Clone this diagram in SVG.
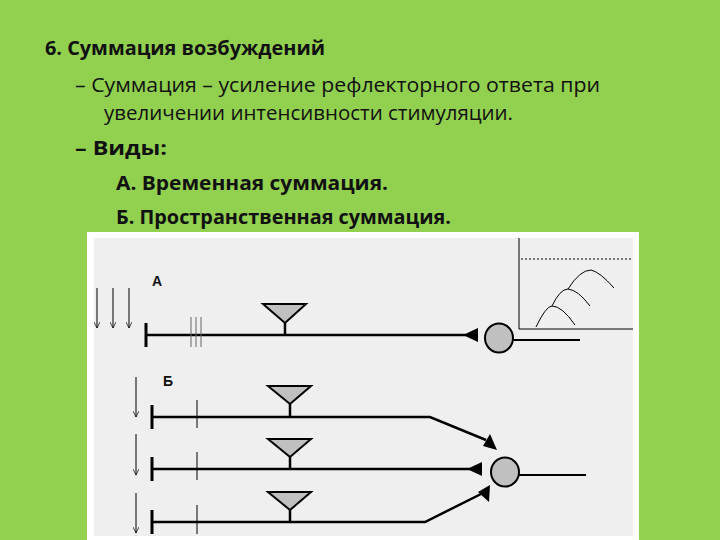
<svg xmlns="http://www.w3.org/2000/svg" width="720" height="540" viewBox="0 0 720 540">
<defs>
<style>
.t{font-family:"Open Sans","Liberation Sans",sans-serif;font-size:20px;fill:#111}
.b{font-weight:bold}
.ax{stroke:#000;stroke-width:2.5;fill:none}
.th{stroke:#000;stroke-width:1;fill:none}
.tri{fill:#c0c0c0;stroke:#000;stroke-width:2}
.cell{fill:#c0c0c0;stroke:#000;stroke-width:2}
.ah{fill:#000}
</style>
<marker id="sa" viewBox="0 0 10 10" refX="10" refY="5" markerWidth="6" markerHeight="6" orient="auto"><path d="M0,0 L10,5 L0,10" fill="none" stroke="#000" stroke-width="1.2"/></marker>
</defs>
<rect width="720" height="540" fill="#92d050"/>
<text class="t b" x="45" y="55" textLength="280" lengthAdjust="spacingAndGlyphs">6. Суммация возбуждений</text>
<text class="t" x="75" y="92" textLength="525" lengthAdjust="spacingAndGlyphs">– Суммация – усиление рефлекторного ответа при</text>
<text class="t" x="104" y="120" textLength="409" lengthAdjust="spacingAndGlyphs">увеличении интенсивности стимуляции.</text>
<text class="t b" x="75" y="155" textLength="92" lengthAdjust="spacingAndGlyphs">– Виды:</text>
<text class="t b" x="116" y="190" textLength="272" lengthAdjust="spacingAndGlyphs">А. Временная суммация.</text>
<text class="t b" x="116" y="224" textLength="335" lengthAdjust="spacingAndGlyphs">Б. Пространственная суммация.</text>
<rect x="87" y="232" width="552" height="310" fill="#fff"/>
<rect x="94" y="238" width="539" height="298" fill="#efefef"/>
<g id="graph">
<path d="M519,238 V329 H633" class="th"/>
<line x1="521" y1="259" x2="632" y2="259" stroke="#000" stroke-width="1" stroke-dasharray="2,2"/>
<path d="M536,327 Q546,306 552,306 Q562,306 575,325" class="th" stroke="#333"/>
<path d="M552,306 Q560,289 568,289 Q578,290 590,306" class="th" stroke="#333"/>
<path d="M568,289 Q580,270 591,270 Q600,272 614,288" class="th" stroke="#333"/>
</g>
<g id="labels" font-family="Liberation Sans,sans-serif" font-weight="bold" font-size="14" fill="#111">
<text x="152" y="286">А</text><text x="163" y="386">Б</text>
</g>
<g id="stimuli">
<line x1="97" y1="288" x2="97" y2="328" class="th" marker-end="url(#sa)"/>
<line x1="113" y1="288" x2="113" y2="328" class="th" marker-end="url(#sa)"/>
<line x1="129" y1="288" x2="129" y2="328" class="th" marker-end="url(#sa)"/>
<line x1="136" y1="377" x2="136" y2="417" class="th" marker-end="url(#sa)"/>
<line x1="136" y1="434" x2="136" y2="475" class="th" marker-end="url(#sa)"/>
<line x1="136" y1="493" x2="136" y2="533" class="th" marker-end="url(#sa)"/>
</g>
<g id="connectors">
<line x1="146" y1="335" x2="466" y2="335" class="ax"/>
<line x1="146" y1="323" x2="146" y2="347" stroke="#000" stroke-width="3"/>
<g stroke="#666" stroke-width="1"><line x1="191" y1="317" x2="191" y2="347"/><line x1="196" y1="317" x2="196" y2="347"/><line x1="201" y1="317" x2="201" y2="347"/></g>
<path d="M463,335 L478,328 L478,342 Z" class="ah"/>
<line x1="513" y1="340" x2="580" y2="340" stroke="#000" stroke-width="2"/>
<path d="M152,417 H430 L486,440" class="ax"/>
<path d="M152,469 H470" class="ax"/>
<path d="M152,522 H425 L483,493" class="ax"/>
<g stroke="#000" stroke-width="3"><line x1="152" y1="405" x2="152" y2="429"/><line x1="152" y1="457" x2="152" y2="481"/><line x1="152" y1="510" x2="152" y2="534"/></g>
<g stroke="#000" stroke-width="1"><line x1="197" y1="400" x2="197" y2="428"/><line x1="197" y1="452" x2="197" y2="480"/><line x1="197" y1="505" x2="197" y2="534"/></g>
<path d="M497,450 L483,446 L490,434 Z" class="ah"/>
<path d="M467,469 L482,462 L482,476 Z" class="ah"/>
<path d="M490,485 L478,492 L489,502 Z" class="ah"/>
<line x1="519" y1="475" x2="586" y2="475" stroke="#000" stroke-width="2"/>
</g>
<g id="synA"><path d="M263,304 H306 L285,323 Z" class="tri"/><line x1="285" y1="323" x2="285" y2="335" stroke="#000" stroke-width="2.5"/></g>
<g id="syn1"><path d="M268,386 H311 L290,404 Z" class="tri"/><line x1="290" y1="404" x2="290" y2="417" stroke="#000" stroke-width="2.5"/></g>
<g id="syn2"><path d="M268,439 H311 L290,457 Z" class="tri"/><line x1="290" y1="457" x2="290" y2="469" stroke="#000" stroke-width="2.5"/></g>
<g id="syn3"><path d="M268,492 H311 L290,510 Z" class="tri"/><line x1="290" y1="510" x2="290" y2="522" stroke="#000" stroke-width="2.5"/></g>
<g id="neuronA"><ellipse cx="499" cy="338" rx="14" ry="14.5" class="cell"/></g>
<g id="neuronB"><ellipse cx="505" cy="472" rx="14" ry="14.5" class="cell"/></g>
</svg>
